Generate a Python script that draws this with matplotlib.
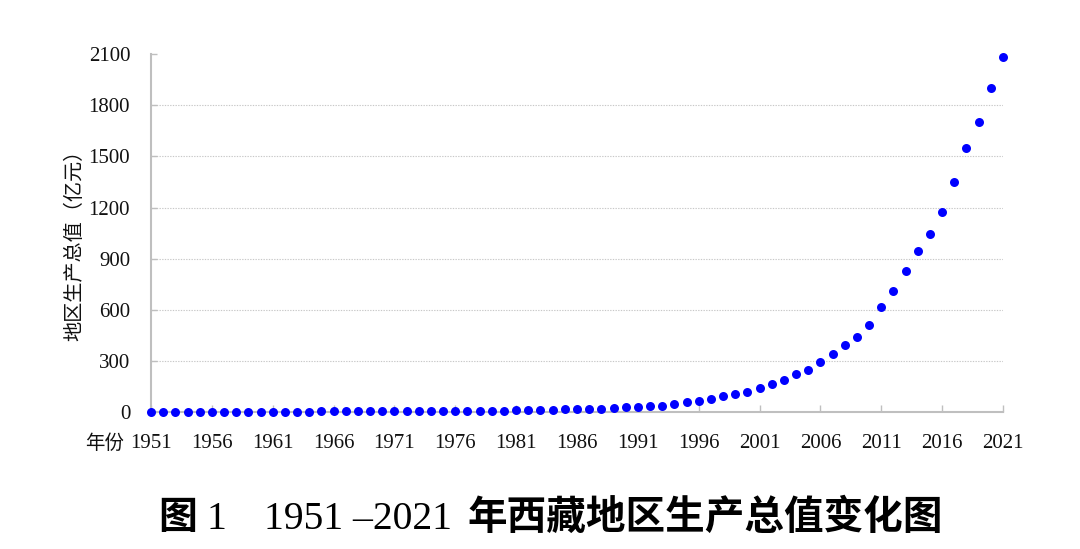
import matplotlib
matplotlib.use("Agg")
import matplotlib.pyplot as plt

# 1951-2021 地区生产总值 (亿元)
years = list(range(1951, 2022))
gdp = [
    1.3, 1.3, 1.4, 1.4, 1.5, 1.6, 1.6, 1.6, 1.7, 2.0,      # 1951-1960
    2.3, 2.3, 2.3, 2.5, 3.3, 3.6, 3.3, 3.0, 3.2, 3.9,      # 1961-1970
    4.5, 4.7, 5.3, 5.4, 5.6, 5.9, 6.0, 6.7, 7.1, 8.7,      # 1971-1980
    10.4, 10.2, 10.3, 13.7, 17.8, 16.9, 17.7, 20.3, 21.9, 27.7,  # 1981-1990
    30.5, 33.3, 37.4, 45.8, 56.1, 65.0, 77.2, 91.5, 105.6, 117.8,  # 1991-2000
    139.2, 162.0, 185.1, 220.3, 248.8, 290.8, 341.4, 395.0, 441.4, 510.0,  # 2001-2010
    615.0, 710.0, 828.0, 944.0, 1045.0, 1173.0, 1349.0, 1552.0, 1700.0, 1902.0,  # 2011-2020
    2082.0,  # 2021
]
yticks = [0, 300, 600, 900, 1200, 1500, 1800, 2100]
xticks = list(range(1951, 2022, 5))

W, H = 1080, 549
fig = plt.figure(figsize=(W / 100, H / 100), dpi=100)
ax = fig.add_axes([151 / W, 1 - 412 / H, (1003 - 151) / W, (412 - 54.3) / H])

ax.scatter(years, gdp, s=42, color="#0000ff", zorder=3, clip_on=False, linewidths=0)

ax.set_xlim(1951, 2021)
ax.set_ylim(0, 2100)
ax.set_xticks(xticks)
ax.set_yticks(yticks)

grid_color = "#c8c8c8"
for v in yticks[1:-1]:
    ax.axhline(v, color=grid_color, linestyle=(0, (1.2, 1.2)), linewidth=0.8, zorder=1)

for side in ("top", "right"):
    ax.spines[side].set_visible(False)
for side in ("left", "bottom"):
    ax.spines[side].set_color("#bfbfbf")
    ax.spines[side].set_linewidth(1.5)

serif = "Liberation Serif"
cjk = "Noto Sans CJK SC"
ax.tick_params(axis="x", direction="in", length=5, width=1, color="#bfbfbf", pad=16)
ax.tick_params(axis="y", direction="in", length=4, width=1, color="#bfbfbf", pad=15)
for lab in ax.get_xticklabels() + ax.get_yticklabels():
    lab.set_fontfamily(serif)
    lab.set_fontsize(15)
    lab.set_color("#111111")

fig.text(124 / W, 1 - 443 / H, "年份", family=cjk, fontsize=14, color="#111111",
         ha="right", va="center")
fig.text(75 / W, 1 - 240 / H, "地区生产总值（亿元）", family=cjk, fontsize=14.5,
         color="#111111", rotation=90, ha="center", va="center")

# caption under the chart, serif digits mixed with bold CJK
base = 1 - 529 / H
fig.text(158 / W, base, "图", family=cjk, fontsize=28, fontweight="bold", va="baseline")
fig.text(206 / W, base, "1", family=serif, fontsize=28.5, va="baseline")
fig.text(264 / W, base, "1951 \u20132021", family=serif, fontsize=28.5, va="baseline")
fig.text(468 / W, base, "年西藏地区生产总值变化图", family=cjk, fontsize=28.5,
         fontweight="bold", va="baseline")

fig.savefig("out.png", dpi=100)
